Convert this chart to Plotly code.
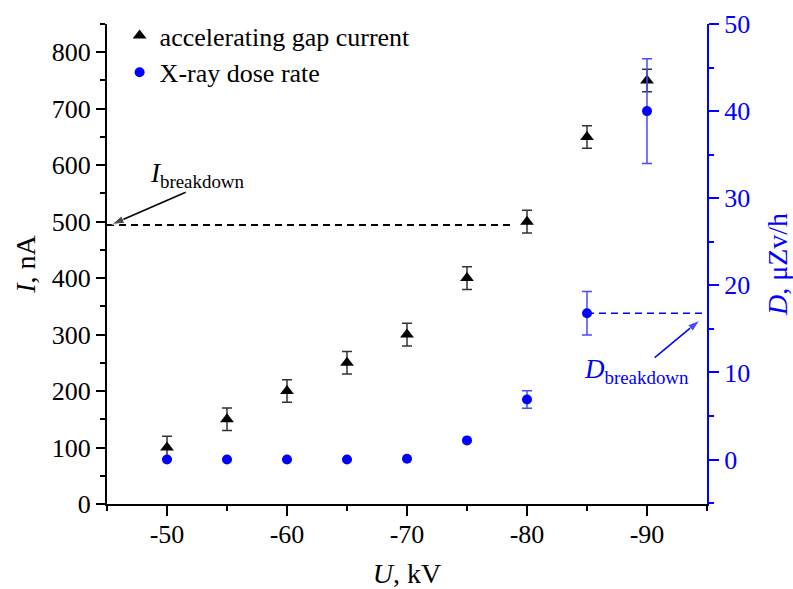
import plotly.graph_objects as go

# ---- data ----
voltage_kv = [-50, -55, -60, -65, -70, -75, -80, -85, -90]
current_na = [100, 150, 200, 250, 300, 400, 500, 650, 750]
current_err = [20, 20, 20, 20, 20, 20, 20, 20, 20]
dose_rate = [0.0, 0.0, 0.0, 0.0, 0.1, 2.2, 6.9, 16.8, 40.0]
dose_err = [0, 0, 0, 0, 0, 0, 1.0, 2.5, 6.0]

i_breakdown_x = [-45, -78.7]
i_breakdown_y = [494, 494]
d_breakdown_x = [-85, -94.6]
d_breakdown_y = [16.8, 16.8]

# annotation arrows (tail -> head)
i_arrow_x = [-51.56, -45.4]
i_arrow_y = [552, 495]
d_arrow_x = [-90.64, -94.4]
d_arrow_y = [11.7, 16.0]

x_tickvals = [-50, -60, -70, -80, -90]
x_ticktext = ["-50", "-60", "-70", "-80", "-90"]
y_tickvals = [0, 100, 200, 300, 400, 500, 600, 700, 800]
y2_tickvals = [0, 10, 20, 30, 40, 50]

FONT = "Liberation Serif"
BLUE = "#0000ff"

fig = go.Figure()

fig.add_trace(go.Scatter(
    x=i_breakdown_x, y=i_breakdown_y, mode="lines",
    line=dict(color="black", width=2, dash="7px,5px"),
    showlegend=False, hoverinfo="skip"))
fig.add_trace(go.Scatter(
    x=d_breakdown_x, y=d_breakdown_y, mode="lines", yaxis="y2",
    line=dict(color=BLUE, width=1.5, dash="7px,5px"),
    showlegend=False, hoverinfo="skip"))

# arrows drawn as lines ending with an arrow marker
fig.add_trace(go.Scatter(
    x=i_arrow_x, y=i_arrow_y, mode="lines+markers",
    line=dict(color="black", width=1.5),
    marker=dict(symbol="arrow", size=[0, 13], angleref="previous", color="black"),
    showlegend=False, hoverinfo="skip"))
fig.add_trace(go.Scatter(
    x=d_arrow_x, y=d_arrow_y, mode="lines+markers", yaxis="y2",
    line=dict(color=BLUE, width=1.5),
    marker=dict(symbol="arrow", size=[0, 13], angleref="previous", color=BLUE),
    showlegend=False, hoverinfo="skip"))

fig.add_trace(go.Scatter(
    x=voltage_kv, y=current_na, mode="markers", name="accelerating gap current",
    marker=dict(symbol="triangle-up", size=12, color="black"),
    error_y=dict(type="data", array=current_err, color="#333333", thickness=1.5, width=5)))
fig.add_trace(go.Scatter(
    x=voltage_kv, y=dose_rate, mode="markers", name="X-ray dose rate", yaxis="y2",
    marker=dict(symbol="circle", size=10, color=BLUE),
    error_y=dict(type="data", array=dose_err, color="#4a4aff", thickness=1.5, width=5)))

# labels
fig.add_annotation(x=-52.5, y=583, xref="x", yref="y", text="<i>I</i><sub>breakdown</sub>",
                   showarrow=False, font=dict(family=FONT, size=27, color="black"))
fig.add_annotation(x=-89.14, y=10.2, xref="x", yref="y2", text="<i>D</i><sub>breakdown</sub>",
                   showarrow=False, font=dict(family=FONT, size=27, color=BLUE))

fig.update_layout(
    width=793, height=589,
    margin=dict(l=107, r=86, t=21, b=85),
    paper_bgcolor="white", plot_bgcolor="white",
    font=dict(family=FONT, size=26, color="black"),
    legend=dict(x=0.021, y=1.025, xanchor="left", yanchor="top", bgcolor="rgba(0,0,0,0)",
                font=dict(family=FONT, size=26), tracegroupgap=0, itemsizing="trace"),
    xaxis=dict(
        range=[-45, -95], tickvals=x_tickvals, ticktext=x_ticktext, automargin=False,
        showgrid=False, zeroline=False, showline=True, linecolor="black", linewidth=2,
        ticks="outside", ticklen=10, tickwidth=1.5, tickcolor="black", ticklabelstandoff=-4,
        minor=dict(dtick=5, tick0=-45, ticks="outside", ticklen=5, tickwidth=1.5, tickcolor="black"),
        tickfont=dict(family=FONT, size=26),
        title=dict(text="<i>U</i>, kV", font=dict(family=FONT, size=28), standoff=16),
    ),
    yaxis=dict(
        range=[0, 850], tickvals=y_tickvals, automargin=False,
        showgrid=False, zeroline=False, showline=True, linecolor="black", linewidth=2,
        ticks="outside", ticklen=9, tickwidth=1.5, tickcolor="black",
        minor=dict(dtick=50, tick0=0, ticks="outside", ticklen=5, tickwidth=1.5, tickcolor="black"),
        tickfont=dict(family=FONT, size=26),
        title=dict(text="<i>I</i>, nA", font=dict(family=FONT, size=28), standoff=8),
    ),
    yaxis2=dict(
        range=[-5.1, 50], tickvals=y2_tickvals, overlaying="y", side="right", anchor="x",
        automargin=False,
        showgrid=False, zeroline=False, showline=True, linecolor=BLUE, linewidth=2,
        ticks="outside", ticklen=10, tickwidth=1.5, tickcolor=BLUE,
        minor=dict(dtick=5, tick0=0, ticks="outside", ticklen=5, tickwidth=1.5, tickcolor=BLUE),
        tickfont=dict(family=FONT, size=26, color=BLUE),
        title=dict(text="<i>D</i>, μZv/h", font=dict(family=FONT, size=28, color=BLUE), standoff=27),
    ),
)

fig.write_html("out.html")
